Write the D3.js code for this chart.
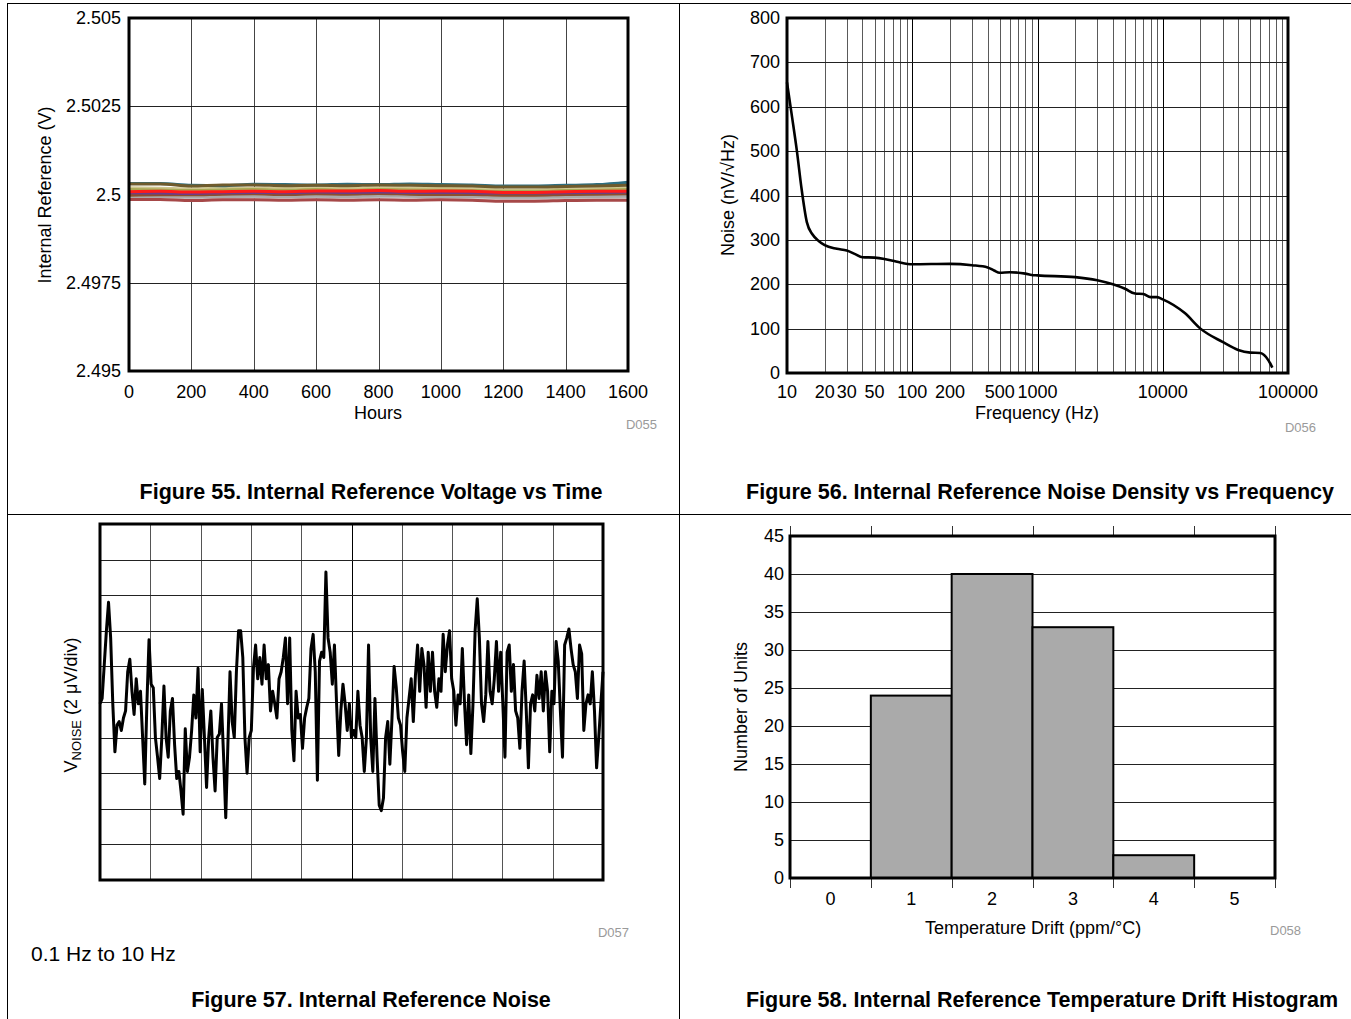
<!DOCTYPE html>
<html>
<head>
<meta charset="utf-8">
<script src="https://cdn.jsdelivr.net/npm/d3@7"></script>
<style>
  body { margin: 0; background: #fff; }
  svg text { font-family: "Liberation Sans", Arial, sans-serif; fill: #000; }
</style>
</head>
<body>
<svg id="page" width="1351" height="1019"></svg>
<script>
// ---------- data ----------
// Figure 55: internal reference voltage (V) vs hours
const hours = [0,100,200,300,400,500,600,700,800,900,1000,1100,1200,1300,1400,1500,1600];
const refTeal   = [2.50031,2.50031,2.50026,2.50025,2.50029,2.50028,2.50027,2.50029,2.50028,2.50030,2.50028,2.50027,2.50024,2.50024,2.50026,2.50028,2.50035];
const refOlive  = [2.50030,2.50030,2.50024,2.50027,2.50027,2.50025,2.50026,2.50025,2.50027,2.50026,2.50025,2.50024,2.50021,2.50021,2.50023,2.50024,2.50026];
const refKhaki  = [2.50019,2.50018,2.50016,2.50018,2.50018,2.50017,2.50019,2.50017,2.50019,2.50018,2.50017,2.50016,2.50013,2.50013,2.50015,2.50016,2.50018];
const refLime   = [2.50014,2.50013,2.50011,2.50013,2.50014,2.50012,2.50014,2.50012,2.50014,2.50013,2.50012,2.50011,2.50009,2.50009,2.50011,2.50012,2.50014];
const refRed    = [2.50008,2.50009,2.50007,2.50008,2.50009,2.50008,2.50010,2.50010,2.50011,2.50009,2.50010,2.50009,2.50006,2.50006,2.50008,2.50009,2.50009];
const refPurple = [2.50005,2.50004,2.50003,2.50005,2.50006,2.50005,2.50007,2.50006,2.50007,2.50006,2.50006,2.50005,2.50004,2.50004,2.50005,2.50006,2.50007];
const refBrown  = [2.49998,2.49999,2.49999,2.50001,2.50002,2.50000,2.50002,2.50001,2.50003,2.50001,2.50000,2.50000,2.49998,2.49998,2.50000,2.50001,2.50002];
const refGray   = [2.49994,2.49994,2.49993,2.49994,2.49995,2.49994,2.49995,2.49994,2.49996,2.49995,2.49994,2.49994,2.49992,2.49992,2.49993,2.49994,2.49995];
const refSilver = [2.49991,2.49991,2.49990,2.49991,2.49992,2.49991,2.49992,2.49991,2.49993,2.49992,2.49991,2.49991,2.49989,2.49989,2.49990,2.49991,2.49992];
const refMaroon = [2.49986,2.49986,2.49983,2.49985,2.49985,2.49984,2.49985,2.49984,2.49985,2.49984,2.49985,2.49984,2.49981,2.49981,2.49983,2.49984,2.49984];
const hourTicks = [0,200,400,600,800,1000,1200,1400,1600];
const voltTicks = [2.495,2.4975,2.5,2.5025,2.505];
const voltTickLabels = ["2.495","2.4975","2.5","2.5025","2.505"];

// Figure 56: noise density (nV/rtHz) vs frequency (Hz)
const freqHz  = [10,11,12,13,14.4,16,18,20,25,30,35,40,50,60,70,80,100,200,300,400,450,500,600,800,900,1000,2000,3000,4000,5000,6000,7000,8000,9000,10000,15000,20000,30000,40000,50000,60000,70000,75000];
const noiseNv = [655,575,500,420,340,312,297,288,280,276,268,261,260,257,253,249,245,246,243,238,231,226,227,224,221,220,216,209,200,190,179,178,171,171,166,135,100,70,52,46,45,28,12];
const freqTicks = [10,20,30,50,100,200,500,1000,10000,100000];
const noiseTicks = [0,100,200,300,400,500,600,700,800];

// Figure 57: 0.1 Hz to 10 Hz noise trace (uV), 10 s across the screen
const noiseTrace = [
  -0.1,0.2,2.1,4.0,5.6,3.6,-0.1,-2.8,-1.3,-1.1,-1.6,-0.9,-0.5,1.7,2.4,0.6,-0.7,1.3,-0.1,0.6,
  -2.0,-4.6,-0.1,3.5,1.0,0.8,-2.0,-3.1,-4.3,-2.0,0.9,-2.0,-3.1,-0.5,0.2,-2.4,-4.3,-3.9,-5.0,-6.3,
  -1.5,-3.9,-3.1,-1.6,0.4,-0.9,1.9,-2.8,0.7,-2.0,-4.8,-2.0,-0.5,-3.1,-5.0,-2.0,-1.8,-0.1,-3.1,-6.5,
  -2.4,1.7,-1.1,-2.0,1.7,4.0,4.0,2.5,-2.0,-4.0,-2.0,-1.6,1.9,3.2,1.3,2.5,1.0,3.2,1.3,2.1,
  -0.5,0.6,-0.1,-0.9,1.3,1.7,2.5,3.6,-0.1,3.6,-1.6,-3.3,0.6,-0.9,-0.7,-2.6,-0.9,-0.3,0.2,3.0,
  3.8,1.7,-4.4,2.3,2.8,2.5,7.3,3.6,2.8,1.0,3.2,-0.1,-3.0,-0.5,1.0,-0.1,-1.6,-0.1,-2.0,-1.6,
  -2.0,0.6,-1.3,-2.0,-3.9,-2.0,3.2,-2.0,-3.9,0.2,-3.1,-5.8,-6.1,-5.4,-2.0,-1.1,-3.5,-0.9,2.0,0.8,
  -0.9,-1.3,-2.8,-3.9,-0.9,0.2,1.3,-1.1,1.5,3.2,0.6,3.0,2.1,-0.3,2.8,0.6,2.8,0.6,-0.3,1.3,
  0.6,3.8,1.7,3.2,4.0,1.3,0.6,-1.3,0.4,-0.1,3.0,0.0,-2.4,0.4,-2.9,-0.1,4.0,5.8,3.6,-0.1,
  -1.1,0.4,3.4,0.6,-0.1,1.3,3.4,0.6,2.8,-0.1,-3.1,2.8,3.2,0.6,2.1,-0.5,-0.9,-2.6,0.6,2.3,
  -0.5,-3.7,-0.1,0.4,-0.5,1.5,0.2,1.7,-0.5,1.7,0.6,-2.8,0.6,-0.1,3.4,2.3,-0.5,-3.1,3.2,3.6,
  4.1,3.0,2.1,1.7,0.2,3.2,2.7,-1.6,-0.1,0.4,-0.1,1.7,-0.5,-3.7,-2.0,-0.1,1.7
];

// Figure 58: temperature drift histogram
const driftBins   = [0,1,2,3,4,5];
const driftCounts = [0,24,40,33,3,0];
const countTicks  = [0,5,10,15,20,25,30,35,40,45];

// ---------- page ----------
const svg = d3.select("#page");
const TICK_FS = 18, TITLE_FS = 21.5;

// panel dividers
const frameLines = [[7,3.5,1351,3.5],[7.5,3,7.5,1019],[679.5,3,679.5,1019],[7,514.5,1351,514.5]];
svg.append("g").selectAll("line").data(frameLines).enter().append("line")
  .attr("x1", d => d[0]).attr("y1", d => d[1]).attr("x2", d => d[2]).attr("y2", d => d[3])
  .attr("stroke", "#000").attr("stroke-width", 1);

function label(g, txt, x, y, opts) {
  opts = opts || {};
  const t = g.append("text").attr("x", x).attr("y", y).text(txt)
    .attr("font-size", opts.size || TICK_FS)
    .attr("text-anchor", opts.anchor || "middle");
  if (opts.bold) t.attr("font-weight", "bold");
  if (opts.fill) t.style("fill", opts.fill);
  if (opts.rotate) t.attr("transform", "rotate(-90," + x + "," + y + ")");
  return t;
}

function plotFrame(g, x0, y0, w, h) {
  g.append("rect").attr("x", x0).attr("y", y0).attr("width", w).attr("height", h)
    .attr("fill", "none").attr("stroke", "#000").attr("stroke-width", 3);
}

// ---------- Figure 55 ----------
(function() {
  const L = 129, T = 18, W = 499, H = 353;
  const g = svg.append("g");
  const x = d3.scaleLinear().domain([0, 1600]).range([L, L + W]);
  const y = d3.scaleLinear().domain([2.495, 2.505]).range([T + H, T]);

  g.append("g").selectAll("line").data(hourTicks).enter().append("line")
    .attr("x1", d => Math.round(x(d)) + 0.5).attr("x2", d => Math.round(x(d)) + 0.5)
    .attr("y1", T).attr("y2", T + H).attr("stroke", "#444");
  g.append("g").selectAll("line").data(voltTicks).enter().append("line")
    .attr("y1", d => Math.round(y(d)) + 0.5).attr("y2", d => Math.round(y(d)) + 0.5)
    .attr("x1", L).attr("x2", L + W).attr("stroke", "#222");

  const series = [
    {v: refSilver, c: "#cfcfcf"},
    {v: refGray,   c: "#a9a9a9"},
    {v: refMaroon, c: "#a64848"},
    {v: refKhaki,  c: "#cfc690"},
    {v: refLime,   c: "#a8a854"},
    {v: refTeal,   c: "#2e6e80"},
    {v: refOlive,  c: "#6f5b2c"},
    {v: refBrown,  c: "#8c4f2e"},
    {v: refPurple, c: "#6a3c8c"},
    {v: refRed,    c: "#ff1a1a"}
  ];
  const line = d3.line().x((d, i) => x(hours[i])).y(d => y(d)).curve(d3.curveMonotoneX);
  g.append("g").selectAll("path").data(series).enter().append("path")
    .attr("d", d => line(d.v)).attr("fill", "none")
    .attr("stroke", d => d.c).attr("stroke-width", 3);

  plotFrame(g, L, T, W, H);

  g.append("g").selectAll("text").data(voltTicks).enter().append("text")
    .attr("x", L - 8).attr("y", d => y(d) + 6).attr("text-anchor", "end")
    .attr("font-size", TICK_FS).text((d, i) => voltTickLabels[i]);
  g.append("g").selectAll("text").data(hourTicks).enter().append("text")
    .attr("x", d => x(d)).attr("y", 398).attr("text-anchor", "middle")
    .attr("font-size", TICK_FS).text(d => d);

  label(g, "Hours", 378, 419);
  label(g, "Internal Reference (V)", 51, 195, {rotate: true});
  label(g, "D055", 657, 429, {anchor: "end", size: 13, fill: "#9a9a9a"});
  label(g, "Figure 55. Internal Reference Voltage vs Time", 371, 499, {bold: true, size: TITLE_FS});
})();

// ---------- Figure 56 ----------
(function() {
  const L = 787, T = 18, W = 501, H = 355;
  const g = svg.append("g");
  const x = d3.scaleLog().domain([10, 100000]).range([L, L + W]);
  const y = d3.scaleLinear().domain([0, 800]).range([T + H, T]);

  const minor = x.ticks().filter(d => d > 10 && d < 100000);
  g.append("g").selectAll("line").data(minor).enter().append("line")
    .attr("x1", d => Math.round(x(d)) + 0.5).attr("x2", d => Math.round(x(d)) + 0.5)
    .attr("y1", T).attr("y2", T + H)
    .attr("stroke", d => Math.abs(Math.log10(d) % 1) < 1e-9 ? "#000" : "#5a5a5a");
  g.append("g").selectAll("line").data(noiseTicks).enter().append("line")
    .attr("y1", d => Math.round(y(d)) + 0.5).attr("y2", d => Math.round(y(d)) + 0.5)
    .attr("x1", L).attr("x2", L + W).attr("stroke", "#222");

  const line = d3.line().x((d, i) => x(freqHz[i])).y(d => y(d)).curve(d3.curveMonotoneX);
  g.append("path").attr("d", line(noiseNv)).attr("fill", "none")
    .attr("stroke", "#000").attr("stroke-width", 2.6);

  plotFrame(g, L, T, W, H);

  g.append("g").selectAll("text").data(noiseTicks).enter().append("text")
    .attr("x", L - 7).attr("y", d => y(d) + 6).attr("text-anchor", "end")
    .attr("font-size", TICK_FS).text(d => d);
  g.append("g").selectAll("text").data(freqTicks).enter().append("text")
    .attr("x", d => x(d)).attr("y", 398).attr("text-anchor", "middle")
    .attr("font-size", TICK_FS).text(d => d);

  label(g, "Frequency (Hz)", 1037, 419);
  label(g, "Noise (nV/\u221AHz)", 734, 195, {rotate: true});
  label(g, "D056", 1316, 432, {anchor: "end", size: 13, fill: "#9a9a9a"});
  label(g, "Figure 56. Internal Reference Noise Density vs Frequency", 1040, 499, {bold: true, size: TITLE_FS});
})();

// ---------- Figure 57 ----------
(function() {
  const L = 100, T = 524, W = 503, H = 356;
  const g = svg.append("g");
  const x = d3.scaleLinear().domain([0, 10]).range([L, L + W]);
  const y = d3.scaleLinear().domain([-10, 10]).range([T + H, T]);
  const divs = d3.range(0, 11);
  const ydivs = d3.range(-10, 11, 2);

  g.append("g").selectAll("line").data(divs).enter().append("line")
    .attr("x1", d => Math.round(x(d)) + 0.5).attr("x2", d => Math.round(x(d)) + 0.5)
    .attr("y1", T).attr("y2", T + H).attr("stroke", d => d === 5 ? "#000" : "#555");
  g.append("g").selectAll("line").data(ydivs).enter().append("line")
    .attr("y1", d => Math.round(y(d)) + 0.5).attr("y2", d => Math.round(y(d)) + 0.5)
    .attr("x1", L).attr("x2", L + W).attr("stroke", "#222");

  const n = noiseTrace.length;
  const line = d3.line().x((d, i) => x(i * 10 / (n - 1))).y(d => y(d));
  g.append("path").attr("d", line(noiseTrace)).attr("fill", "none")
    .attr("stroke", "#000").attr("stroke-width", 3).attr("stroke-linejoin", "round");

  plotFrame(g, L, T, W, H);

  const yl = g.append("text").attr("x", 77).attr("y", 705).attr("font-size", TICK_FS)
    .attr("text-anchor", "middle").attr("transform", "rotate(-90,77,705)");
  yl.append("tspan").text("V");
  yl.append("tspan").text("NOISE").attr("font-size", 13).attr("dy", 4);
  yl.append("tspan").text(" (2 \u03BCV/div)").attr("dy", -4);

  label(g, "D057", 629, 937, {anchor: "end", size: 13, fill: "#9a9a9a"});
  label(g, "0.1 Hz to 10 Hz", 31, 961, {anchor: "start", size: 21});
  label(g, "Figure 57. Internal Reference Noise", 371, 1007, {bold: true, size: TITLE_FS});
})();

// ---------- Figure 58 ----------
(function() {
  const L = 790, T = 536, W = 485, H = 342;
  const g = svg.append("g");
  const x = d3.scaleLinear().domain([-0.5, 5.5]).range([L, L + W]);
  const y = d3.scaleLinear().domain([0, 45]).range([T + H, T]);

  g.append("g").selectAll("line").data(countTicks).enter().append("line")
    .attr("y1", d => Math.round(y(d)) + 0.5).attr("y2", d => Math.round(y(d)) + 0.5)
    .attr("x1", L).attr("x2", L + W).attr("stroke", "#222");

  const edges = d3.range(-0.5, 6, 1);
  g.append("g").selectAll("line.top").data(edges).enter().append("line")
    .attr("x1", d => Math.round(x(d)) + 0.5).attr("x2", d => Math.round(x(d)) + 0.5)
    .attr("y1", T - 10).attr("y2", T).attr("stroke", "#333");
  g.append("g").selectAll("line.bot").data(edges).enter().append("line")
    .attr("x1", d => Math.round(x(d)) + 0.5).attr("x2", d => Math.round(x(d)) + 0.5)
    .attr("y1", T + H).attr("y2", T + H + 10).attr("stroke", "#333");

  g.append("g").selectAll("rect").data(driftBins.filter((d, i) => driftCounts[i] > 0)).enter().append("rect")
    .attr("x", d => x(d - 0.5)).attr("width", d => x(d + 0.5) - x(d - 0.5))
    .attr("y", d => y(driftCounts[driftBins.indexOf(d)]))
    .attr("height", d => y(0) - y(driftCounts[driftBins.indexOf(d)]))
    .attr("fill", "#aaaaaa").attr("stroke", "#000").attr("stroke-width", 2);

  plotFrame(g, L, T, W, H);

  g.append("g").selectAll("text").data(countTicks).enter().append("text")
    .attr("x", 784).attr("y", d => y(d) + 6).attr("text-anchor", "end")
    .attr("font-size", TICK_FS).text(d => d);
  g.append("g").selectAll("text").data(driftBins).enter().append("text")
    .attr("x", d => x(d)).attr("y", 905).attr("text-anchor", "middle")
    .attr("font-size", TICK_FS).text(d => d);

  label(g, "Temperature Drift (ppm/\u00B0C)", 1033, 934);
  label(g, "Number of Units", 747, 707, {rotate: true});
  label(g, "D058", 1270, 935, {anchor: "start", size: 13, fill: "#9a9a9a"});
  label(g, "Figure 58. Internal Reference Temperature Drift Histogram", 1042, 1007, {bold: true, size: TITLE_FS});
})();
</script>
</body>
</html>
